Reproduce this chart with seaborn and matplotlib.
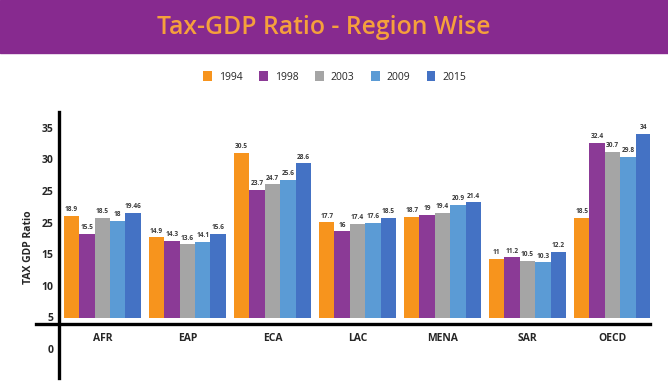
import matplotlib
matplotlib.use("Agg")
import matplotlib.pyplot as plt
from matplotlib.patches import Rectangle
import numpy as np
import pandas as pd
import seaborn as sns

# datos
regions = ["AFR", "EAP", "ECA", "LAC", "MENA", "SAR", "OECD"]
years = ["1994", "1998", "2003", "2009", "2015"]
v1994 = [18.9, 14.9, 30.5, 17.7, 18.7, 11, 18.5]
v1998 = [15.5, 14.3, 23.7, 16, 19, 11.2, 32.4]
v2003 = [18.5, 13.6, 24.7, 17.4, 19.4, 10.5, 30.7]
v2009 = [18, 14.1, 25.6, 17.6, 20.9, 10.3, 29.8]
v2015 = [19.46, 15.6, 28.6, 18.5, 21.4, 12.2, 34]
ytick_labels = ["0", "5", "10", "15", "25", "25", "30", "35"]

colors = ["#F7941D", "#8B3A96", "#A5A5A5", "#5B9BD5", "#4472C4"]

series = [v1994, v1998, v2003, v2009, v2015]
df = pd.DataFrame(
    [(r, y, v) for y, vals in zip(years, series) for r, v in zip(regions, vals)],
    columns=["region", "year", "value"],
)

sns.set_style("white")
plt.rcParams["font.family"] = ["Open Sans", "DejaVu Sans"]

fig = plt.figure(figsize=(6.68, 3.89), dpi=100)

# banda morada del titulo
fig.patches.append(Rectangle((0, 1 - 53 / 389), 1, 53 / 389, transform=fig.transFigure,
                             color="#872A8F", zorder=0))
fig.text(323.5 / 668, 1 - 34 / 389, "Tax-GDP Ratio - Region Wise", ha="center",
         va="baseline", fontsize=17.8, fontweight="semibold", color="#F5A03C")

ax = fig.add_axes([36 / 668, 11 / 389, 614 / 668, 266 / 389])
sns.barplot(data=df, x="region", y="value", hue="year", palette=colors,
            width=0.905, saturation=1, linewidth=0, ax=ax)

for cont in ax.containers:
    ax.bar_label(cont, labels=[f"{b.get_height():g}" for b in cont], fontsize=4.7,
                 fontweight="bold", color="#3a3a3a", padding=2)

ax.set_xlim(-0.78, 6.44)
ax.set_ylim(-11.1, 38.1)

for s in ["top", "right"]:
    ax.spines[s].set_visible(False)
ax.spines["left"].set_position(("data", -0.506))
ax.spines["bottom"].set_position(("data", -1.2))
for s in ["left", "bottom"]:
    ax.spines[s].set_linewidth(2.4)
    ax.spines[s].set_color("black")

ax.set_yticks(0.1 + 5.85 * np.arange(-1, 7))
ax.set_yticklabels(ytick_labels)
ax.tick_params(axis="y", length=0, pad=4, labelsize=7.5)
ax.tick_params(axis="x", length=0, pad=6, labelsize=7.5)
for lab in ax.get_xticklabels() + ax.get_yticklabels():
    lab.set_fontweight("bold")

ax.set_xlabel("")
ax.set_ylabel("TAX GDP Ratio", fontsize=7.5, fontweight="bold")
ax.yaxis.set_label_coords(-0.004, 0.49)

handles, labels = ax.get_legend_handles_labels()
ax.get_legend().remove()
fig.legend(handles, labels, loc="center", bbox_to_anchor=(335 / 668, 1 - 77 / 389),
           ncol=5, frameon=False, fontsize=7.5, handlelength=0.8, handleheight=1.1,
           handletextpad=0.7, columnspacing=1.6)

fig.savefig("out.png", dpi=100)
